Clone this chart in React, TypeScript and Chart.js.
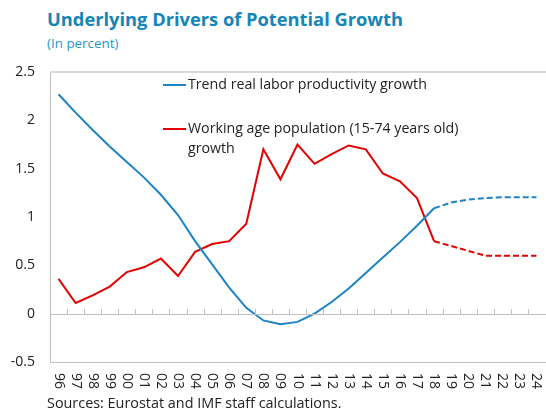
import React, { useEffect, useRef } from "react";
import { Chart, registerables } from "chart.js";

Chart.register(...registerables);

const years = ["96","97","98","99","00","01","02","03","04","05","06","07","08","09","10","11","12","13","14","15","16","17","18","19","20","21","22","23","24"];
const productivity = [2.27, 2.08, 1.9, 1.73, 1.57, 1.41, 1.23, 1.02, 0.75, 0.51, 0.27, 0.06, -0.07, -0.11, -0.085, 0.0, 0.12, 0.26, 0.42, 0.58, 0.74, 0.91, 1.09, 1.15, 1.18, 1.195, 1.205, 1.205, 1.205];
const workingAge = [0.36, 0.11, 0.19, 0.28, 0.43, 0.48, 0.57, 0.39, 0.64, 0.72, 0.75, 0.93, 1.70, 1.39, 1.75, 1.55, 1.65, 1.74, 1.70, 1.45, 1.37, 1.195, 0.75, 0.70, 0.65, 0.60, 0.60, 0.60, 0.60];
const projectionStart = 22; // index of "18"
const legendLabels = ["Trend real labor productivity growth", "Working age population (15-74 years old)", "growth"];
const titleText = "Underlying Drivers of Potential Growth";
const subtitleText = "(In percent)";
const sourceText = "Sources: Eurostat and IMF staff calculations.";

const BLUE = "#1b83c6";
const RED = "#e20000";
const FONT = "'Open Sans', 'Noto Sans', sans-serif";

const decorPlugin = {
  id: "decor",
  afterDraw(chart: any) {
    const { ctx, chartArea } = chart;
    const xs = chart.scales.x;
    const ys = chart.scales.y;
    const y0 = ys.getPixelForValue(0);
    ctx.save();
    // top border
    ctx.strokeStyle = "#d9d9d9";
    ctx.lineWidth = 2;
    ctx.beginPath();
    ctx.moveTo(chartArea.left, chartArea.top);
    ctx.lineTo(chart.width, chartArea.top);
    ctx.stroke();
    // zero line
    ctx.strokeStyle = "#bfbfbf";
    ctx.lineWidth = 1;
    ctx.beginPath();
    ctx.moveTo(chartArea.left, Math.round(y0) + 0.5);
    ctx.lineTo(chart.width, Math.round(y0) + 0.5);
    ctx.stroke();
    // tick marks between categories
    for (let i = 0; i < years.length - 1; i++) {
      const x = Math.round((xs.getPixelForValue(i) + xs.getPixelForValue(i + 1)) / 2) + 0.5;
      ctx.beginPath();
      ctx.moveTo(x, Math.round(y0));
      ctx.lineTo(x, Math.round(y0) - 5);
      ctx.stroke();
    }
    // x labels rotated clockwise
    ctx.fillStyle = "#222";
    ctx.font = `14px ${FONT}`;
    ctx.textAlign = "left";
    ctx.textBaseline = "middle";
    years.forEach((lab, i) => {
      const x = xs.getPixelForValue(i);
      ctx.save();
      ctx.translate(x, chartArea.bottom + 11);
      ctx.rotate(Math.PI / 2);
      ctx.fillText(lab, 0, 0);
      ctx.restore();
    });
    // legend
    ctx.font = `14.2px ${FONT}`;
    ctx.fillStyle = "#222";
    ctx.textBaseline = "middle";
    ctx.lineWidth = 2;
    ctx.strokeStyle = BLUE;
    ctx.beginPath();
    ctx.moveTo(163, 85);
    ctx.lineTo(186, 85);
    ctx.stroke();
    ctx.fillText(legendLabels[0], 188, 85);
    ctx.strokeStyle = RED;
    ctx.beginPath();
    ctx.moveTo(163, 129);
    ctx.lineTo(186, 129);
    ctx.stroke();
    ctx.fillText(legendLabels[1], 188, 129);
    ctx.fillText(legendLabels[2], 188, 149);
    ctx.restore();
  },
};

export default function App() {
  const ref = useRef<HTMLCanvasElement>(null);
  useEffect(() => {
    const canvas = ref.current!;
    const dash = (ctx: any) => (ctx.p0DataIndex >= projectionStart ? [6, 3] : undefined);
    const chart = new Chart(canvas, {
      type: "line",
      data: {
        labels: years,
        datasets: [
          {
            label: legendLabels[0],
            data: productivity,
            borderColor: BLUE,
            borderWidth: 2,
            pointRadius: 0,
            tension: 0,
            segment: { borderDash: dash },
          },
          {
            label: legendLabels[1],
            data: workingAge,
            borderColor: RED,
            borderWidth: 2,
            pointRadius: 0,
            tension: 0,
            segment: { borderDash: dash },
          },
        ],
      },
      options: {
        animation: false,
        responsive: false,
        maintainAspectRatio: false,
        layout: { padding: { top: 72, right: 1, left: 0, bottom: 0 } },
        plugins: { legend: { display: false }, tooltip: { enabled: false }, title: { display: false } },
        scales: {
          x: {
            offset: true,
            grid: { display: false, drawTicks: false },
            border: { display: true, color: "#bfbfbf", width: 1 },
            ticks: { display: false },
            afterFit: (s: any) => { s.height = 51; },
          },
          y: {
            min: -0.5,
            max: 2.5,
            grid: { display: false, drawTicks: false },
            border: { display: true, color: "#bfbfbf", width: 1 },
            ticks: {
              stepSize: 0.5,
              padding: 15,
              color: "#222",
              font: { family: FONT, size: 14 },
              callback: (v: any) => String(Number(v)),
            },
            afterFit: (s: any) => { s.width = 50; },
          },
        },
      },
      plugins: [decorPlugin],
    });
    return () => chart.destroy();
  }, []);

  return (
    <div style={{ position: "fixed", left: 0, top: 0, width: 546, height: 413, background: "#fff", fontFamily: FONT }}>
      <div style={{ position: "absolute", left: 47, top: 6, fontSize: 18.3, fontWeight: 700, color: "#1585b8", whiteSpace: "nowrap" }}>{titleText}</div>
      <div style={{ position: "absolute", left: 47, top: 34, fontSize: 13.4, color: "#2896c8", whiteSpace: "nowrap" }}>{subtitleText}</div>
      <canvas ref={ref} width={546} height={413} style={{ position: "absolute", left: 0, top: 0, width: 546, height: 413 }} />
      <div style={{ position: "absolute", left: 47, top: 393, fontSize: 14.4, color: "#222", whiteSpace: "nowrap" }}>{sourceText}</div>
    </div>
  );
}
